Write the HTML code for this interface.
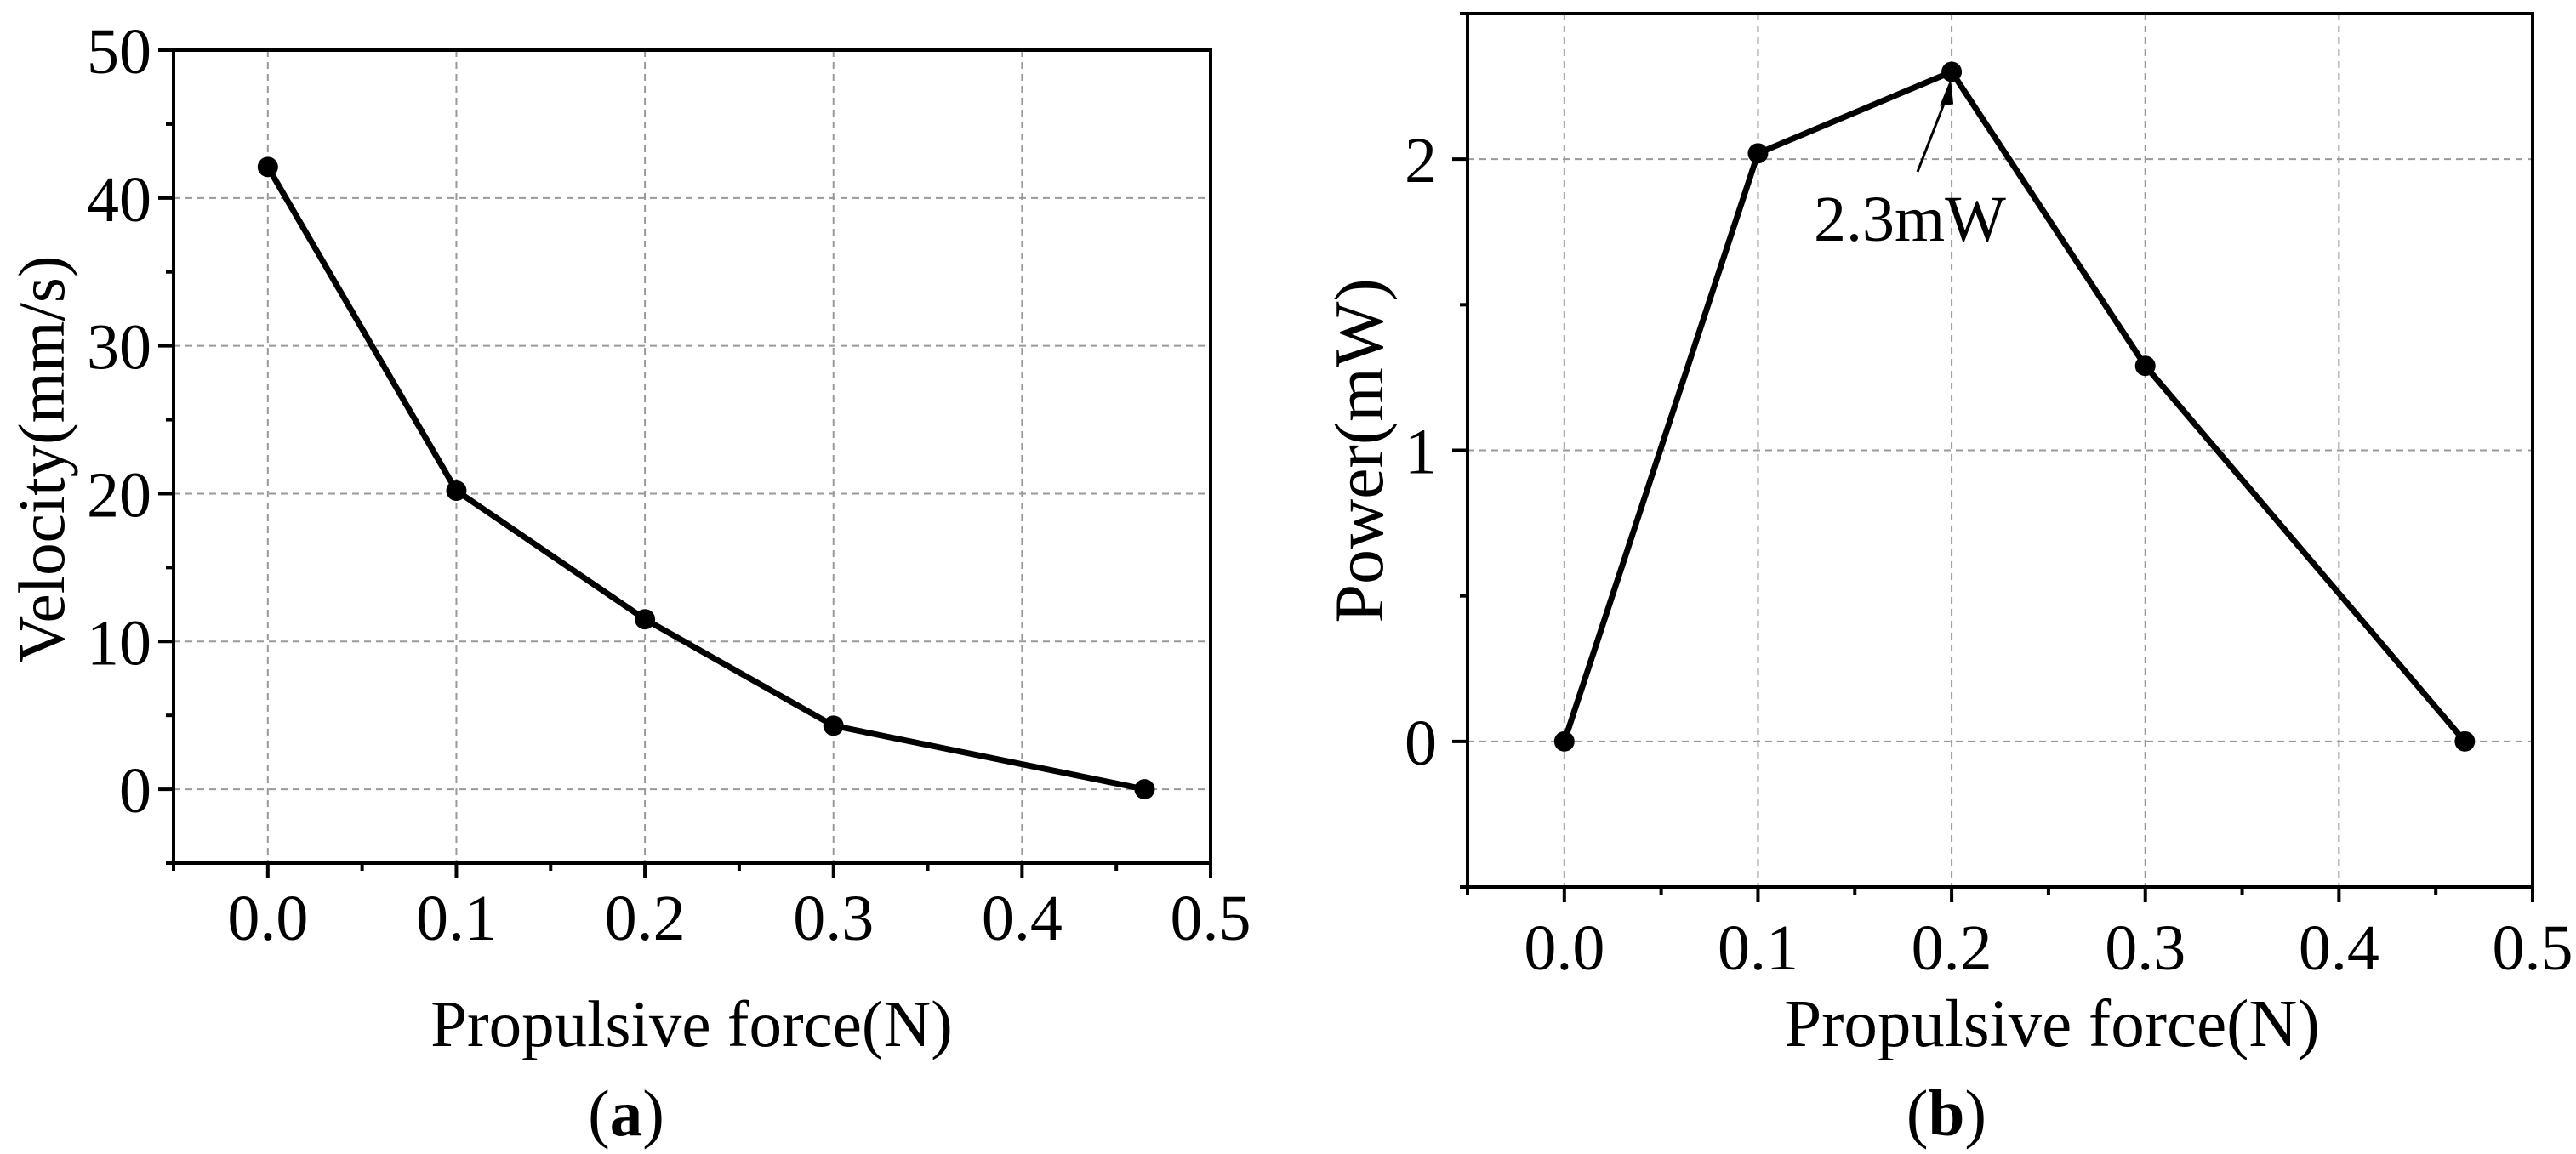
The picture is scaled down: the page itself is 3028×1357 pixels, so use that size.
<!DOCTYPE html>
<html><head><meta charset="utf-8"><style>
html,body{margin:0;padding:0;background:#fff;}
svg{display:block;font-family:"Liberation Serif",serif;}
</style></head><body>
<svg id="fig" width="3028" height="1357" viewBox="0 0 3028 1357" xmlns="http://www.w3.org/2000/svg"></svg>
<script>
const xCats = [0, 0.1, 0.2, 0.3, 0.465];
const velocityValues = [42.1, 20.2, 11.5, 4.3, 0];
const powerValues = [0, 2.02, 2.3, 1.29, 0];
const xTickLabels = ["0.0","0.1","0.2","0.3","0.4","0.5"];
const xTickValues = [0, 0.1, 0.2, 0.3, 0.4, 0.5];
const velTickValues = [0, 10, 20, 30, 40, 50];
const velTickLabels = ["0","10","20","30","40","50"];
const powTickValues = [0, 1, 2];
const powTickLabels = ["0","1","2"];

const NS = "http://www.w3.org/2000/svg";
const svg = document.getElementById('fig');
function mk(tag, attrs, parent, text){
  const e = document.createElementNS(NS, tag);
  for (const k in attrs) e.setAttribute(k, attrs[k]);
  if (text !== undefined) e.textContent = text;
  (parent||svg).appendChild(e);
  return e;
}

function panel(cfg){
  const g = mk('g', {});
  
  
  const sx = v => cfg.L + (v - cfg.xmin) / (cfg.xmax - cfg.xmin) * (cfg.R - cfg.L);
  const sy = v => cfg.B - (v - cfg.ymin) / (cfg.ymax - cfg.ymin) * (cfg.B - cfg.T);
  xTickValues.forEach(v => {
    if (v >= cfg.xmax) return;
    const l = mk('line', {x1:sx(v), x2:sx(v), y1:cfg.T, y2:cfg.B, stroke:'#999', 'stroke-width':2, 'stroke-dasharray':'8,6'}, g);
    
    
  });
  cfg.yTicks.forEach(v => {
    if (v >= cfg.ymax) return;
    const l = mk('line', {x1:cfg.L, x2:cfg.R, y1:sy(v), y2:sy(v), stroke:'#999', 'stroke-width':2, 'stroke-dasharray':'8,6'}, g);
    
    
  });
  const fr = mk('rect', {x:cfg.L, y:cfg.T, width:cfg.R-cfg.L, height:cfg.B-cfg.T, fill:'none', stroke:'#000', 'stroke-width':4}, g);
  
  
  for (let v = cfg.xmin; v <= cfg.xmax + 1e-9; v += 0.05) {
    const major = Math.abs(Math.round(v*10) - v*10) < 1e-6;
    const t = mk('line', {x1:sx(v), x2:sx(v), y1:cfg.B, y2:cfg.B + (major?18:9), stroke:'#000', 'stroke-width':4}, g);
    
    
  }
  xTickValues.forEach((v,i) => {
    const t = mk('text', {x:sx(v), y:cfg.B + cfg.xLabOff, 'font-size':76, 'text-anchor':'middle'}, g, xTickLabels[i]);
    
    
  });
  for (let v = cfg.ymin; v <= cfg.ymax + 1e-9; v += cfg.yMinor) {
    const major = Math.abs(v/cfg.yMajor - Math.round(v/cfg.yMajor)) < 1e-6;
    const t = mk('line', {x1:cfg.L - (major?18:9), x2:cfg.L, y1:sy(v), y2:sy(v), stroke:'#000', 'stroke-width':4}, g);
    
    
  }
  cfg.yTicks.forEach((v,i) => {
    const t = mk('text', {x:cfg.L - cfg.yLabOff, y:sy(v) + 27, 'font-size':76, 'text-anchor':'end'}, g, cfg.yLabels[i]);
    
    
  });
  const pts = xCats.map((x,i) => sx(x)+','+sy(cfg.vals[i])).join(' ');
  const pl = mk('polyline', {points:pts, fill:'none', stroke:'#000', 'stroke-width':7, 'stroke-linejoin':'round'}, g);
  
  
  xCats.forEach((x,i) => {
    const c = mk('circle', {cx:sx(x), cy:sy(cfg.vals[i]), r:12, fill:'#000'}, g);
    
    
  });
  const xt = mk('text', {x:cfg.xTitleX, y:1230, 'font-size':cfg.xTitleSize, 'text-anchor':'middle'}, g, 'Propulsive force(N)');
  
  
  const yt = mk('text', {x:0, y:0, 'font-size':cfg.yTitleSize, 'text-anchor':'middle', transform:`translate(${cfg.yTitleX},${cfg.yTitleY}) rotate(-90)`}, g, cfg.yTitle);
  
  
  const cap = mk('text', {x:cfg.capX, y:1335, 'font-size':77, 'text-anchor':'middle'}, g);
  
  
  mk('tspan', {}, cap, '(');
  mk('tspan', {'font-weight':'bold'}, cap, cfg.cap);
  mk('tspan', {}, cap, ')');
  return {g, sx, sy};
}

panel({name:'velocity-chart', L:204, R:1423, T:59, B:1015, xmin:-0.05, xmax:0.5, ymin:-5, ymax:50,
  yTicks:velTickValues, yLabels:velTickLabels, yMajor:10, yMinor:5, vals:velocityValues, xLabOff:90, yLabOff:26,
  xTitleX:813, xTitleSize:77, yTitleX:75, yTitleY:540, yTitleSize:77, yTitle:'Velocity(mm/s)', capX:736, cap:'a'});

const b = panel({name:'power-chart', L:1725, R:2977, T:16, B:1043, xmin:-0.05, xmax:0.5, ymin:-0.5, ymax:2.5,
  yTicks:powTickValues, yLabels:powTickLabels, yMajor:1, yMinor:0.5, vals:powerValues, xLabOff:97, yLabOff:36,
  xTitleX:2412, xTitleSize:79, yTitleX:1625, yTitleY:530, yTitleSize:82, yTitle:'Power(mW)', capX:2288, cap:'b'});

const ax = b.sx(xCats[2]), ay = b.sy(powerValues[2]);
const ar = mk('line', {x1:2254, y1:202, x2:ax-3, y2:ay+22, stroke:'#000', 'stroke-width':3}, b.g);


const ah = mk('polygon', {points:`${ax-1},${ay+8} ${ax-14},${ay+40} ${ax+2},${ay+38}`, fill:'#000'}, b.g);


const at = mk('text', {x:2132, y:283, 'font-size':76}, b.g, '2.3mW');


</script>
</body></html>
